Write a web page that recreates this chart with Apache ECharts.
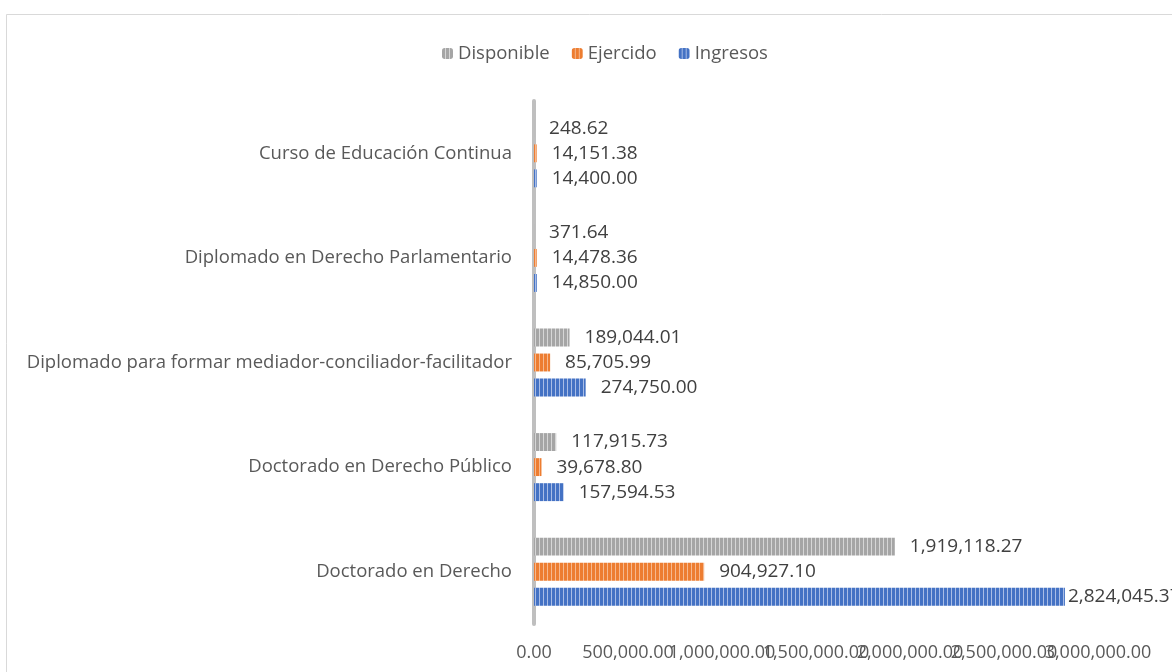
<!DOCTYPE html>
<html>
<head>
<meta charset="utf-8">
<title>Ingresos por programa</title>
<script src="https://cdn.jsdelivr.net/npm/echarts@6/dist/echarts.min.js"></script>
<style>
  html, body { margin: 0; padding: 0; background: #fff; }
  #chart { width: 1172px; height: 672px; }
</style>
</head>
<body>
<div id="chart"></div>
<script>
// categories bottom -> top, like the Excel chart
const categories = [
  'Doctorado en Derecho',
  'Doctorado en Derecho Público',
  'Diplomado para formar mediador-conciliador-facilitador',
  'Diplomado en Derecho Parlamentario',
  'Curso de Educación Continua'
];
const ingresos = [2824045.37, 157594.53, 274750.00, 14850.00, 14400.00];
const ejercido = [904927.10, 39678.80, 85705.99, 14478.36, 14151.38];
const disponible = [1919118.27, 117915.73, 189044.01, 371.64, 248.62];
const legendNames = ['Disponible', 'Ejercido', 'Ingresos'];
const axisMax = 3000000;
const axisStep = 500000;

const font = 'Open Sans';

// vertical stripe fill, like the Excel pattern
function stripes(color, light) {
    const c = document.createElement('canvas');
    c.width = 4;
    c.height = 4;
    const ctx = c.getContext('2d');
    ctx.fillStyle = color;
    ctx.fillRect(0, 0, 4, 4);
    ctx.fillStyle = light;
    ctx.fillRect(3, 0, 1, 4);
    return {image: c, repeat: 'repeat'};
}

function fmt(v) {
    return v.toLocaleString('en-US', {minimumFractionDigits: 2, maximumFractionDigits: 2});
}

const labelOption = {
    show: true,
    position: 'right',
    distance: 15,
    fontFamily: font,
    fontSize: 19,
    color: '#404040',
    formatter: p => fmt(p.value)
};

function makeSeries(name, values, color, light) {
    return {
        name: name,
        type: 'bar',
        xAxisIndex: 0,
        barGap: '40%',
        barCategoryGap: '35%',
        itemStyle: {color: stripes(color, light)},
        label: labelOption,
        data: values.map(v => ({value: v})),
        animation: false
    };
}

// first series ends up on top inside each category
const sDisponible = makeSeries('Disponible', disponible, '#a5a5a5', '#d6d6d6');
const sEjercido = makeSeries('Ejercido', ejercido, '#ed7d31', '#f6b98f');
const sIngresos = makeSeries('Ingresos', ingresos, '#4472c4', '#a9bde6');
// the biggest label gets pushed in against the edge, as in the reference
sIngresos.data[0].label = {distance: 3};

const tickLabel = {
    fontFamily: font,
    fontSize: 18,
    color: '#595959',
    margin: 20
};

const chart = echarts.init(document.getElementById('chart'));
chart.setOption({
    backgroundColor: '#fff',
    textStyle: {fontFamily: font},
    graphic: [{
        type: 'rect',
        shape: {x: 6.5, y: 14.5, width: 1300, height: 800},
        style: {fill: 'none', stroke: '#d9d9d9', lineWidth: 1},
        silent: true
    }],
    legend: {
        data: legendNames,
        top: 39,
        left: 437,
        itemWidth: 11,
        itemHeight: 11,
        itemGap: 22,
        textStyle: {fontFamily: font, fontSize: 18.5, color: '#595959'}
    },
    grid: {left: 534, right: 74, top: 101, bottom: 48, containLabel: false},
    // two stacked axes: labels overlap like in Excel, ECharts would drop one otherwise
    xAxis: [{
        type: 'value',
        min: 0,
        max: axisMax,
        interval: axisStep,
        axisLine: {show: false},
        axisTick: {show: false},
        splitLine: {show: false},
        axisLabel: Object.assign({}, tickLabel, {
            showMinLabel: true,
            showMaxLabel: false,
            formatter: v => fmt(v)
        })
    }, {
        type: 'value',
        position: 'bottom',
        min: 0,
        max: axisMax,
        interval: axisMax,
        axisLine: {show: false},
        axisTick: {show: false},
        splitLine: {show: false},
        axisLabel: Object.assign({}, tickLabel, {
            showMaxLabel: true,
            formatter: v => v === axisMax ? fmt(v) : ''
        })
    }],
    yAxis: {
        type: 'category',
        data: categories,
        offset: 2,
        axisLine: {show: true, lineStyle: {color: '#bfbfbf', width: 4}},
        axisTick: {show: false},
        axisLabel: {fontFamily: font, fontSize: 18.5, color: '#595959', margin: 20}
    },
    series: [sDisponible, sEjercido, sIngresos]
});
</script>
</body>
</html>
